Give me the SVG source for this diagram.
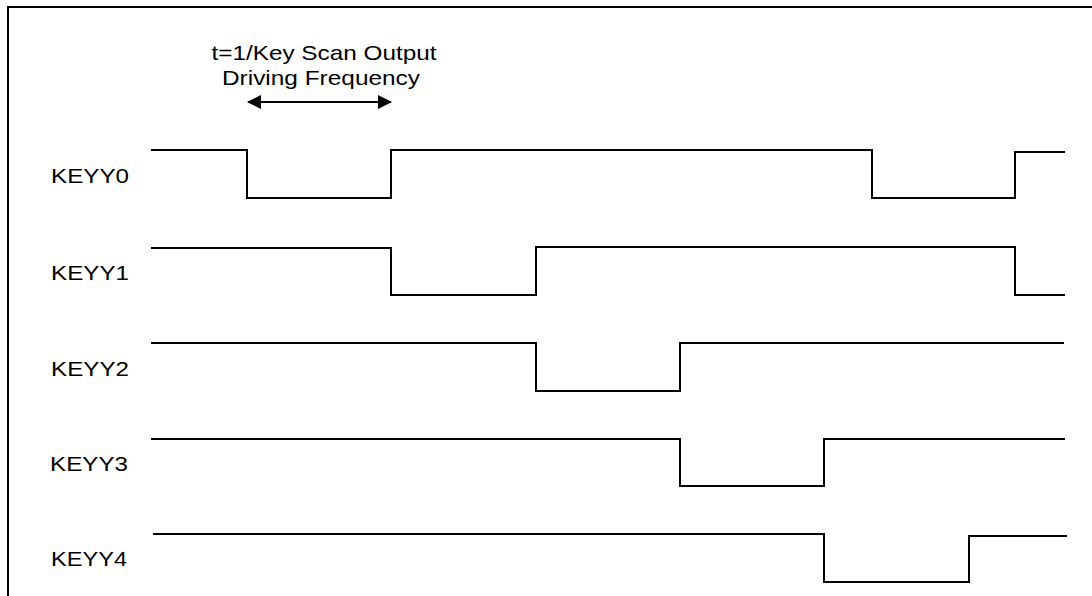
<svg xmlns="http://www.w3.org/2000/svg" width="1092" height="596" viewBox="0 0 1092 596">
<style>
.w{fill:none;stroke:#000;stroke-width:2;stroke-linejoin:miter;stroke-linecap:square}
.t{font-family:"Liberation Sans",Arial,sans-serif;font-size:21px;fill:#000}
</style>
<defs>
<marker id="ah" viewBox="0 0 14 14" refX="13" refY="7" markerWidth="14" markerHeight="14" markerUnits="userSpaceOnUse" orient="auto-start-reverse">
<path d="M0,0 L14,7 L0,14 Z" fill="#000"/>
</marker>
</defs>
<rect width="1092" height="596" fill="#fff"/>
<path class="w" d="M8,597 V7 H1093"/>
<g id="title">
<text class="t" x="324" y="60" text-anchor="middle" textLength="225" lengthAdjust="spacingAndGlyphs">t=1/Key Scan Output</text>
<text class="t" x="321" y="85" text-anchor="middle" textLength="198" lengthAdjust="spacingAndGlyphs">Driving Frequency</text>
</g>
<g id="connectors">
<line x1="248" y1="102" x2="391" y2="102" stroke="#000" stroke-width="2" marker-start="url(#ah)" marker-end="url(#ah)"/>
</g>
<g id="keyy0">
<text class="t" x="51" y="183" textLength="78" lengthAdjust="spacingAndGlyphs">KEYY0</text>
<path class="w" d="M152,150 H247 V198 H391 V150 H872 V198 H1015 V152 H1064"/>
</g>
<g id="keyy1">
<text class="t" x="51" y="280" textLength="78" lengthAdjust="spacingAndGlyphs">KEYY1</text>
<path class="w" d="M152,248 H391 V295 H536 V247 H1015 V295 H1064"/>
</g>
<g id="keyy2">
<text class="t" x="51" y="376" textLength="78" lengthAdjust="spacingAndGlyphs">KEYY2</text>
<path class="w" d="M152,343 H536 V391 H680 V343 H1063"/>
</g>
<g id="keyy3">
<text class="t" x="50" y="471" textLength="78" lengthAdjust="spacingAndGlyphs">KEYY3</text>
<path class="w" d="M152,439 H680 V486 H824 V439 H1064"/>
</g>
<g id="keyy4">
<text class="t" x="51" y="566" textLength="76" lengthAdjust="spacingAndGlyphs">KEYY4</text>
<path class="w" d="M154,534 H824 V582 H969 V536 H1066"/>
</g>
</svg>
